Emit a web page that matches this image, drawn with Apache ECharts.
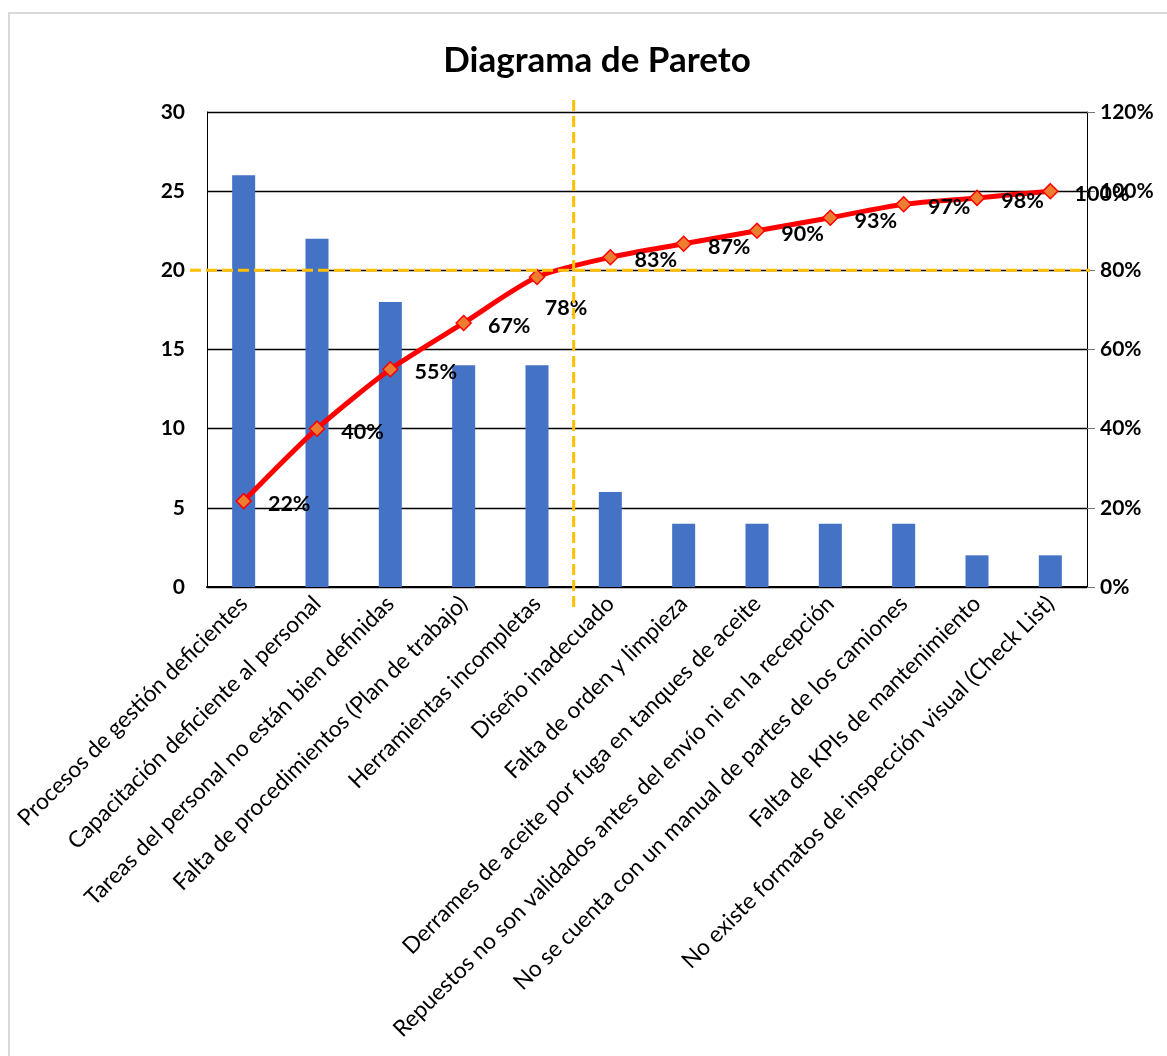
<!DOCTYPE html>
<html>
<head>
<meta charset="utf-8">
<script src="https://cdn.jsdelivr.net/npm/echarts@6/dist/echarts.min.js"></script>
<style>
  html,body{margin:0;padding:0;background:#fff;}
  #main{width:1167px;height:1056px;}
</style>
</head>
<body>
<div id="main"></div>
<script>
// datos
var categorias = [
  'Procesos de gestión deficientes',
  'Capacitación deficiente al personal',
  'Tareas del personal no están bien definidas',
  'Falta de procedimientos (Plan de trabajo)',
  'Herramientas incompletas',
  'Diseño inadecuado',
  'Falta de orden y limpieza',
  'Derrames de aceite por fuga en tanques de aceite',
  'Repuestos no son validados antes del envío ni en la recepción',
  'No se cuenta con un manual de partes de los camiones',
  'Falta de KPIs de mantenimiento',
  'No existe formatos de inspección visual (Check List)'
];
var frecuencia = [26, 22, 18, 14, 14, 6, 4, 4, 4, 4, 2, 2];
var acumulado = [21.7, 40, 55, 66.7, 78.3, 83.3, 86.7, 90, 93.3, 96.7, 98.3, 100];
var ticksIzq = [0, 5, 10, 15, 20, 25, 30];
var ticksDer = [0, 20, 40, 60, 80, 100, 120];
var corte80 = 80;      // linea horizontal 80%
var corteIdx = 4;      // linea vertical tras la 5a categoria

var font = 'Lato, "Open Sans", sans-serif';
var chart = echarts.init(document.getElementById('main'));

var datosLinea = acumulado.map(function (v, i) {
  var d = {value: v};
  if (i === corteIdx) {
    d.label = {position: 'bottom', distance: 12, offset: [29, 0]};
  }
  return d;
});

var option = {
  animation: false,
  title: {
    text: 'Diagrama de Pareto',
    left: 592, top: 38, textAlign: 'center',
    textStyle: {fontFamily: font, fontSize: 35, fontWeight: 'bold', color: '#000'}
  },
  grid: {left: 207, right: 80, top: 112, bottom: 469, containLabel: false},
  xAxis: {
    type: 'category',
    data: categorias,
    axisLine: {lineStyle: {color: '#000', width: 2}},
    axisTick: {show: false},
    axisLabel: {
      interval: 0, rotate: 45, margin: 13,
      fontFamily: font, fontSize: 22.8, color: '#000'
    }
  },
  yAxis: [
    {
      type: 'value', min: ticksIzq[0], max: ticksIzq[ticksIzq.length - 1], interval: 5,
      axisLine: {show: true, lineStyle: {color: '#000'}},
      axisTick: {show: false},
      axisLabel: {margin: 22, fontFamily: font, fontSize: 21, fontWeight: 'bold', color: '#000'},
      splitLine: {lineStyle: {color: '#000', width: 1.3}}
    },
    {
      type: 'value', min: ticksDer[0], max: ticksDer[ticksDer.length - 1], interval: 20,
      axisLine: {show: true, lineStyle: {color: '#000'}},
      axisTick: {show: true, length: 8, lineStyle: {color: '#777'}},
      axisLabel: {margin: 13, fontFamily: font, fontSize: 21, fontWeight: 'bold', color: '#000',
        formatter: function (v) { return v + '%'; }},
      splitLine: {show: false}
    }
  ],
  series: [
    {
      type: 'bar',
      data: frecuencia,
      barWidth: 23,
      itemStyle: {color: '#4472C4'}
    },
    {
      type: 'line',
      yAxisIndex: 1,
      data: datosLinea,
      smooth: 0.25,
      symbol: 'diamond',
      symbolSize: 15,
      lineStyle: {color: '#FF0000', width: 5},
      itemStyle: {color: '#ED7D31', borderColor: '#FF0000', borderWidth: 1.5},
      label: {
        show: true, position: 'right', distance: 16, offset: [0, 3],
        fontFamily: font, fontSize: 21.5, fontWeight: 'bold', color: '#000',
        formatter: function (p) { return Math.round(p.value) + '%'; }
      },
      z: 5
    }
  ]
};
chart.setOption(option);

// lineas de corte punteadas (se salen un poco del area del grafico)
var y80 = chart.convertToPixel({yAxisIndex: 1}, corte80);
var xa = chart.convertToPixel({xAxisIndex: 0}, corteIdx);
var xb = chart.convertToPixel({xAxisIndex: 0}, corteIdx + 1);
var xv = (xa + xb) / 2;
var yArriba = chart.convertToPixel({yAxisIndex: 0}, 30);
var yAbajo = chart.convertToPixel({yAxisIndex: 0}, 0);
var xIzq = chart.convertToPixel({xAxisIndex: 0}, 0) - (xb - xa) / 2;
var xDer = chart.convertToPixel({xAxisIndex: 0}, categorias.length - 1) + (xb - xa) / 2;
var dash = {stroke: '#FFC000', lineWidth: 3, lineDash: [11, 5]};

chart.setOption({
  graphic: [
    {type: 'rect', shape: {x: 9, y: 13, width: 1200, height: 1100},
      style: {fill: 'none', stroke: '#d9d9d9', lineWidth: 2}, z: -1, silent: true},
    {type: 'line', shape: {x1: xIzq - 17, y1: y80, x2: xDer + 3, y2: y80}, style: dash, z: 10},
    {type: 'line', shape: {x1: xv, y1: yArriba - 12, x2: xv, y2: yAbajo + 20}, style: dash, z: 10}
  ]
});
</script>
</body>
</html>
